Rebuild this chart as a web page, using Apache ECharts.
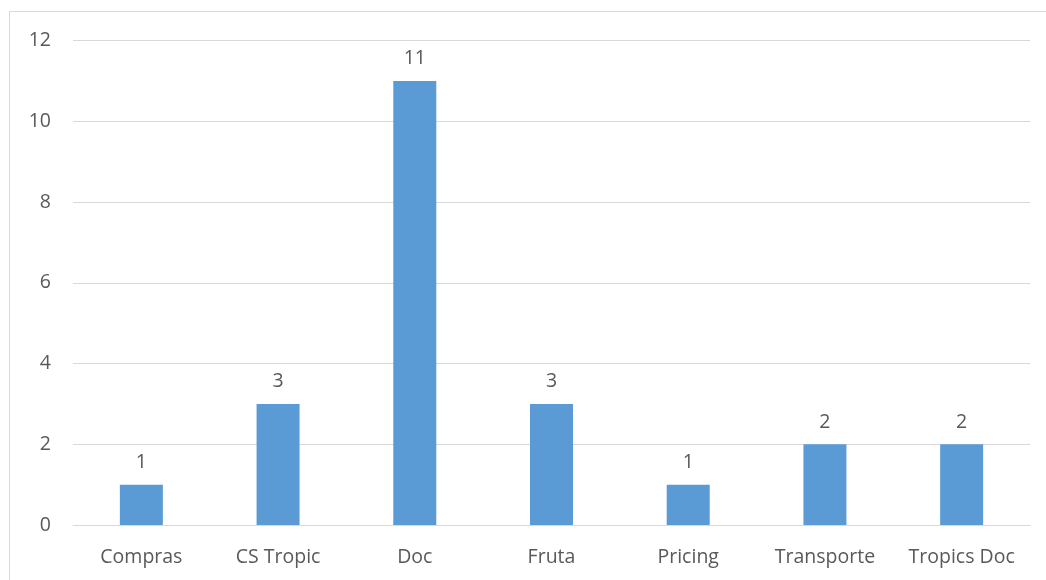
<!DOCTYPE html>
<html>
<head>
<meta charset="utf-8">
<script src="https://cdn.jsdelivr.net/npm/echarts@6/dist/echarts.min.js"></script>
<style>
  html, body { margin: 0; padding: 0; background: #fff; }
  #frame { position: absolute; left: 9px; top: 11px; width: 1100px; height: 700px; border: 1px solid #d9d9d9; box-sizing: border-box; }
  #chart { position: absolute; left: 0; top: 0; width: 1046px; height: 580px; }
</style>
</head>
<body>
<div id="frame"></div>
<div id="chart"></div>
<script>
// Ticket counts per area
const categories = ['Compras', 'CS Tropic', 'Doc', 'Fruta', 'Pricing', 'Transporte', 'Tropics Doc'];
const counts = [1, 3, 11, 3, 1, 2, 2];

const textColor = '#595959';
const fontFamily = '"Open Sans", "Liberation Sans", sans-serif';

const chart = echarts.init(document.getElementById('chart'), null, { renderer: 'canvas' });
chart.setOption({
  animation: false,
  backgroundColor: 'transparent',
  grid: { left: 73, right: 16, top: 40.5, bottom: 55, containLabel: false },
  xAxis: {
    type: 'category',
    data: categories,
    axisLine: { show: true, lineStyle: { color: '#d9d9d9', width: 1 } },
    axisTick: { show: false },
    axisLabel: { interval: 0, hideOverlap: false, color: textColor, fontSize: 19.5, fontFamily: fontFamily, margin: 22 }
  },
  yAxis: {
    type: 'value',
    min: 0,
    max: 12,
    interval: 2,
    axisLine: { show: false },
    axisTick: { show: false },
    splitLine: { lineStyle: { color: '#d9d9d9', width: 1 } },
    axisLabel: { color: textColor, fontSize: 19.5, fontFamily: fontFamily, margin: 22 }
  },
  series: [{
    type: 'bar',
    data: counts,
    barWidth: 43,
    itemStyle: { color: '#5B9BD5' },
    label: {
      show: true,
      position: 'top',
      distance: 12,
      color: textColor,
      fontSize: 19.5,
      fontFamily: fontFamily
    }
  }]
});
</script>
</body>
</html>
